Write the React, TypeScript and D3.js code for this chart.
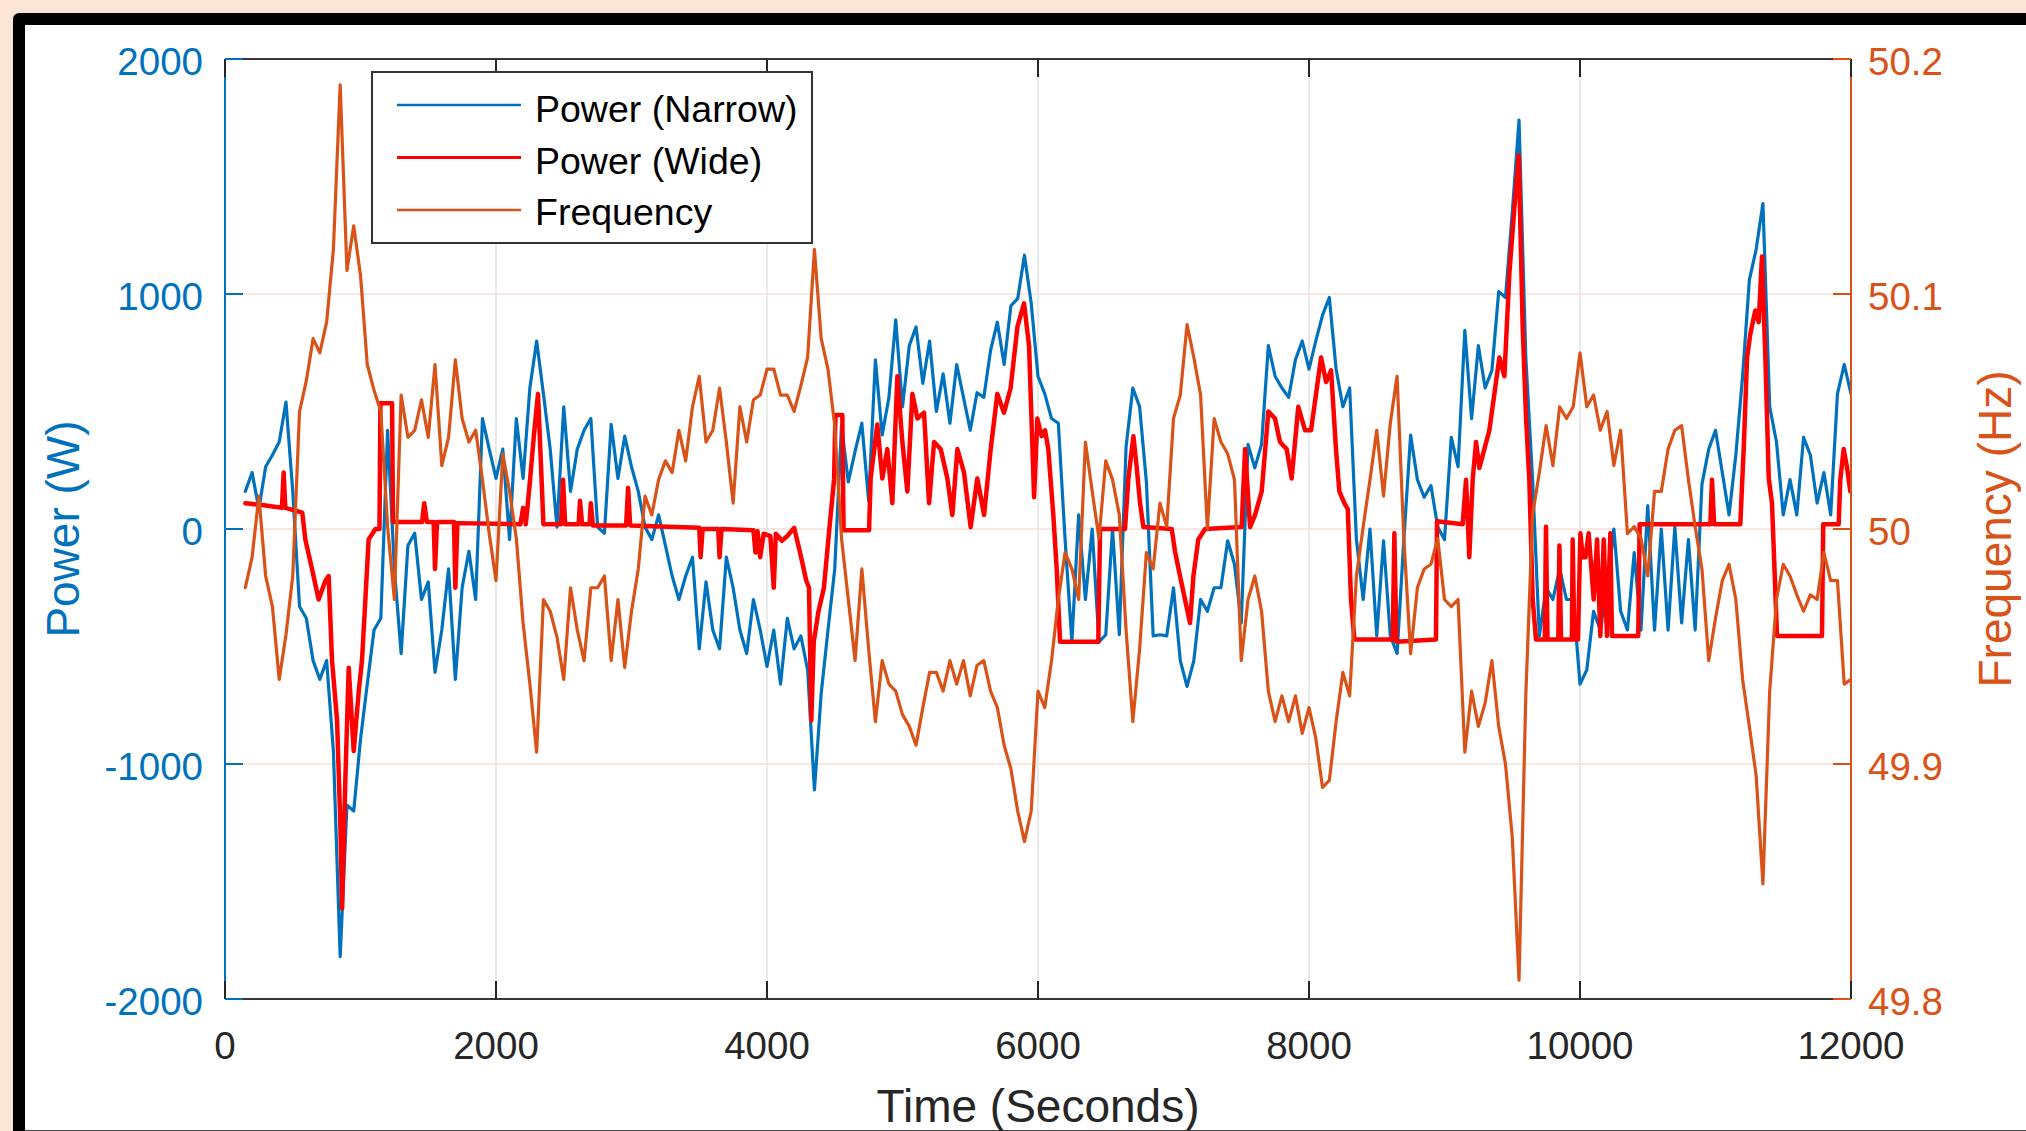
import React, { useEffect } from 'react';
import * as d3 from 'd3';

// Sampling of the narrow-band power and frequency traces (seconds)
const SAMPLE_START = 150;
const SAMPLE_STEP = 50;

// Power (Narrow), W — one value every 50 s from 150 s to 12000 s
const narrowPower = [
  160, 240, 85, 265, 315, 370, 540, 160, -330, -380, -560, -640, -560, -945, -1820, -1175, -1200, -895, -660, -430,
  -380, 420, -170, -530, -70, -18, -300, -225, -610, -430, -170, -640, -250, -95, -300, 470, 340, 215,
  340, -45, 470, 215, 600, 800, 575, 340, 8, 520, 160, 340, 420, 470, 8, -18, 445, 215, 395, 265,
  160, 8, -45, 60, -70, -200, -300, -200, -120, -510, -225, -430, -510, -120, -250, -430, -530, -300, -430, -585,
  -430, -660, -380, -510, -455, -600, -1110, -700, -430, -170, 440, 200, 330, 450, 120, 720, 400, 560, 890, 520,
  780, 860, 620, 800, 500, 660, 450, 700, 560, 420, 580, 560, 760, 880, 700, 950, 980, 1165, 960, 650,
  575, 470, 450, -45, -480, 60, -300, 0, -480, -450, 0, -450, 350, 600, 520, 200, -455, -450, -455, -250,
  -560, -670, -560, -300, -350, -250, -250, -50, -150, -400, 360, 260, 360, 780, 650, 600, 560, 720, 800, 680,
  800, 910, 985, 680, 520, 600, -45, -300, 0, -455, -50, -455, -530, -45, 400, 210, 135, 185, 8, -45,
  390, 265, 845, 470, 780, 600, 675, 1010, 985, 1345, 1740, 730, 210, -455, -250, -300, -170, -300, -300, -660,
  -600, -350, -430, -250, 0, -350, -430, -100, -430, 100, -430, 0, -430, 8, -400, -45, -430, 190, 340, 420,
  240, 60, 315, 650, 1060, 1190, 1385, 520, 370, 60, 210, 60, 390, 315, 110, 240, 60, 575, 700, 575,
];

// Frequency, Hz — same sampling as narrowPower
const frequency = [
  49.975, 49.988, 50.014, 49.980, 49.967, 49.936, 49.955, 49.980, 50.050, 50.063,
  50.081, 50.075, 50.088, 50.119, 50.189, 50.110, 50.129, 50.108, 50.070, 50.059,
  50.050, 50.001, 49.970, 50.057, 50.039, 50.042, 50.055, 50.039, 50.070, 50.027,
  50.039, 50.072, 50.047, 50.037, 50.042, 50.021, 49.998, 49.978,
  50.032, 50.016, 49.996, 49.960, 49.934, 49.905, 49.970, 49.965, 49.954, 49.936,
  49.975, 49.957, 49.944, 49.975, 49.975, 49.980, 49.944, 49.970, 49.941, 49.965,
  49.983, 50.014, 50.006, 50.021, 50.029, 50.024, 50.042, 50.029, 50.052, 50.065,
  50.037, 50.042, 50.060, 50.037, 50.011, 50.052, 50.037, 50.055, 50.057, 50.068,
  50.068, 50.057, 50.057, 50.050, 50.061, 50.073, 50.119, 50.081, 50.068, 50.044,
  49.996, 49.970, 49.944, 49.983, 49.949, 49.918, 49.944, 49.934, 49.931, 49.921,
  49.916, 49.908, 49.924, 49.939, 49.939, 49.931, 49.944, 49.934, 49.944, 49.929,
  49.942, 49.944, 49.931, 49.924, 49.908, 49.898, 49.880, 49.867, 49.880, 49.931,
  49.924, 49.944, 49.970, 49.990, 49.983, 49.970, 50.037, 50.016, 49.996, 50.029,
  50.021, 50.006, 49.957, 49.918, 49.949, 49.990, 49.983, 50.011, 50.001, 50.047,
  50.057, 50.087, 50.073, 50.057, 50.000, 50.047, 50.037, 50.032, 50.021, 49.944,
  49.970, 49.980, 49.965, 49.931, 49.918, 49.929, 49.918, 49.929, 49.913, 49.924,
  49.911, 49.890, 49.893, 49.918, 49.939, 49.929, 49.980, 50.001, 50.021, 50.042,
  50.014, 50.045, 50.065, 49.996, 49.947, 49.975, 49.983, 49.985, 49.996, 49.970,
  49.967, 49.970, 49.905, 49.931, 49.916, 49.926, 49.944, 49.916, 49.900, 49.869,
  49.808, 49.929, 50.006, 50.024, 50.044, 50.027, 50.052, 50.047, 50.052, 50.075,
  50.052, 50.057, 50.042, 50.050, 50.027, 50.042, 49.998, 50.001, 49.996, 49.980,
  50.016, 50.016, 50.034, 50.042, 50.044, 50.021, 50.001, 49.983, 49.944, 49.962,
  49.978, 49.985, 49.970, 49.936, 49.916, 49.895, 49.849, 49.931, 49.970, 49.985,
  49.980, 49.972, 49.965, 49.972, 49.970, 49.990, 49.978, 49.978, 49.934, 49.936,
];

// Power (Wide): breakpoints (s) and values (W)
const wideTime = [
  150, 300, 420, 433, 445, 570, 593, 642, 691, 741, 765, 790, 827, 851, 864, 888, 913, 950, 987, 1011,
  1036, 1060, 1110, 1140, 1147, 1233, 1240, 1455, 1470, 1490, 1540, 1550, 1565, 1690, 1700, 1715,
  2180, 2200, 2220, 2250, 2280, 2310, 2330, 2350, 2480, 2495, 2510, 2610, 2620, 2635, 2690, 2700, 2715,
  2960, 2975, 2990, 3500, 3510, 3525, 3640, 3650, 3665, 3900, 3915, 3930, 3950, 3975,
  4025, 4050, 4065, 4110, 4150, 4200, 4240, 4290, 4310, 4327, 4345, 4380, 4420, 4460, 4495, 4505, 4556, 4565,
  4753, 4765, 4814, 4851, 4888, 4925, 4962, 4999, 5036, 5073, 5110, 5159, 5196, 5233, 5282, 5331, 5368, 5405,
  5454, 5503, 5552, 5602, 5651, 5700, 5749, 5798, 5848, 5897, 5934, 5971, 5995, 6027, 6052, 6076, 6113, 6138,
  6163, 6445, 6458, 6642, 6667, 6704, 6728, 6753, 6778, 6987, 7011, 7048, 7085, 7122, 7147, 7183, 7233,
  7503, 7528, 7565, 7602, 7651, 7700, 7749, 7786, 7835, 7872, 7921, 7971, 8015, 8052, 8089, 8126, 8163,
  8199, 8224, 8261, 8286, 8310, 8335, 8618, 8630, 8645, 8937, 8945, 9134, 9159, 9183, 9208, 9233, 9257,
  9294, 9331, 9368, 9405, 9442, 9479, 9516, 9548, 9577, 9602, 9626, 9651, 9675, 9740, 9749, 9760, 9840,
  9848, 9860, 9940, 9946, 9958, 9985, 10003, 10020, 10040, 10064, 10101, 10126, 10150, 10175, 10199, 10224,
  10236, 10430, 10440, 10962, 10974, 10990, 11183, 11208, 11233, 11257, 11294, 11319, 11343, 11368, 11393,
  11417, 11454, 11786, 11795, 11909, 11921, 11946, 11971, 11995, 12000,
];
const widePower = [
  110, 100, 90, 240, 90, 70, -45, -170, -300, -220, -200, -560, -815, -1250, -1615, -1070, -590, -945, -690, -560,
  -300, -45, 0, 0, 535, 535, 30, 30, 110, 30, 30, -170, 30, 30, -250, 25,
  20, 90, 20, 200, 400, 575, 300, 20, 20, 210, 20, 20, 120, 20, 20, 110, 15,
  15, 175, 15, 5, -120, 0, 0, -120, 0, -5, -100, -10, -120, -20,
  -30, -250, -20, -50, -30, 5, -90, -220, -250, -815, -480, -350, -250, 0, 210, 485, 485, -5,
  -5, 215, 445, 215, 340, 110, 650, 370, 160, 575, 470, 495, 110, 370, 340, 215, 60, 340,
  240, 8, 215, 60, 340, 575, 495, 600, 860, 960, 780, 135, 470, 395, 420, 340, 60, -170,
  -480, -480, 0, 0, 215, 395, 265, 110, 8, 0, -95, -200, -300, -400, -200, -45, 0,
  8, 340, 8, 60, 160, 500, 470, 370, 340, 215, 520, 420, 420, 575, 730, 625, 675,
  340, 160, 110, 85, -300, -470, -470, -18, -480, -470, 33, 20, 210, -120, 210, 370, 260,
  340, 420, 575, 730, 650, 1090, 1370, 1590, 860, 470, 210, -300, -470, -470, 10, -470, -470,
  -70, -470, -470, -45, -470, -470, -18, -120, -120, -18, -300, -45, -455, -45, -455, -18,
  -455, -455, 20, 20, 210, 20, 20, 340, 730, 830, 930, 880, 1160, 730, 215,
  110, -455, -455, 20, 20, 210, 340, 260, 160, 200,
];

const timeTicks = [0, 2000, 4000, 6000, 8000, 10000, 12000];
const powerTicks = [-2000, -1000, 0, 1000, 2000];
const freqTicks = [49.8, 49.9, 50, 50.1, 50.2];
const freqTickLabels = ['49.8', '49.9', '50', '50.1', '50.2'];
const seriesNames = ['Power (Narrow)', 'Power (Wide)', 'Frequency'];

const BLUE = '#0072BD';
const RED = '#FF0000';
const ORANGE = '#D95319';
const DARK = '#262626';
const FONT = '"Liberation Sans", Arial, Helvetica, sans-serif';

export default function App() {
  useEffect(() => {
    document.body.style.margin = '0';
    document.body.style.overflow = 'hidden';
  }, []);

  const W = 2026;
  const H = 1131;
  const L = 225, R = 1851, T = 59, B = 999;
  const TICK = 18;

  const x = d3.scaleLinear().domain([0, 12000]).range([L, R]);
  const yP = d3.scaleLinear().domain([-2000, 2000]).range([B, T]);
  const yF = d3.scaleLinear().domain([49.8, 50.2]).range([B, T]);

  const sampleTimes = narrowPower.map((_, i) => SAMPLE_START + i * SAMPLE_STEP);
  const linePower = d3.line<[number, number]>().x(d => x(d[0])).y(d => yP(d[1]));
  const lineFreq = d3.line<[number, number]>().x(d => x(d[0])).y(d => yF(d[1]));

  const narrowPath = linePower(narrowPower.map((v, i) => [sampleTimes[i], v] as [number, number])) || '';
  const widePath = linePower(widePower.map((v, i) => [wideTime[i], v] as [number, number])) || '';
  const freqPath = lineFreq(frequency.map((v, i) => [sampleTimes[i], v] as [number, number])) || '';

  const legendColors = [BLUE, RED, ORANGE];
  const legendWidths = [2.5, 3, 2.5];

  return (
    <svg width={W} height={H} style={{ position: 'absolute', left: 0, top: 0, display: 'block' }} fontFamily={FONT}>
      <rect x={0} y={0} width={W} height={H} fill="#fbe5d6" />
      <rect x={13} y={13} width={W + 20} height={H + 20} rx={6} fill="#000" />
      <rect x={25} y={25} width={W} height={H} fill="#fff" />
      <line x1={25} x2={W} y1={1130.5} y2={1130.5} stroke="#444" strokeWidth={1} />

      <defs>
        <clipPath id="plotClip">
          <rect x={L} y={T} width={R - L} height={B - T} />
        </clipPath>
      </defs>

      {/* grid */}
      {timeTicks.slice(1, -1).map(t => (
        <line key={'gx' + t} x1={x(t)} x2={x(t)} y1={T} y2={B} stroke="#e3e3e3" strokeWidth={1.5} />
      ))}
      {powerTicks.slice(1, -1).map(p => (
        <line key={'gy' + p} x1={L} x2={R} y1={yP(p)} y2={yP(p)} stroke="#f8e0d6" strokeWidth={1.5} />
      ))}

      {/* data */}
      <g clipPath="url(#plotClip)" fill="none" strokeLinejoin="round" strokeLinecap="round">
        <path d={narrowPath} stroke={BLUE} strokeWidth={3.2} />
        <path d={widePath} stroke={RED} strokeWidth={4.5} />
        <path d={freqPath} stroke={ORANGE} strokeWidth={3.2} />
      </g>

      {/* box */}
      <line x1={L} x2={R} y1={T} y2={T} stroke="#3d3535" strokeWidth={2} />
      <line x1={L} x2={R} y1={B} y2={B} stroke="#3d3535" strokeWidth={2} />
      <line x1={L} x2={L} y1={T} y2={B} stroke={BLUE} strokeWidth={2} />
      <line x1={R} x2={R} y1={T} y2={B} stroke={ORANGE} strokeWidth={2} />

      {/* x ticks */}
      {timeTicks.map(t => (
        <g key={'xt' + t}>
          <line x1={x(t)} x2={x(t)} y1={B} y2={B - TICK} stroke={DARK} strokeWidth={2} />
          <line x1={x(t)} x2={x(t)} y1={T} y2={T + TICK} stroke={DARK} strokeWidth={2} />
          <text x={x(t)} y={1059} fontSize={38.5} fill={DARK} textAnchor="middle">{t}</text>
        </g>
      ))}
      {/* left ticks */}
      {powerTicks.map(p => (
        <g key={'yl' + p}>
          <line x1={L} x2={L + TICK} y1={yP(p)} y2={yP(p)} stroke={BLUE} strokeWidth={2} />
          <text x={203} y={yP(p) + 16} fontSize={38.5} fill={BLUE} textAnchor="end">{p}</text>
        </g>
      ))}
      {/* right ticks */}
      {freqTicks.map((f, i) => (
        <g key={'yr' + f}>
          <line x1={R - TICK} x2={R} y1={yF(f)} y2={yF(f)} stroke={ORANGE} strokeWidth={2} />
          <text x={1868} y={yF(f) + 16} fontSize={38.5} fill={ORANGE} textAnchor="start">{freqTickLabels[i]}</text>
        </g>
      ))}

      {/* axis labels */}
      <text x={(L + R) / 2} y={1122} fontSize={46} fill={DARK} textAnchor="middle">Time (Seconds)</text>
      <text transform={`translate(79, ${(T + B) / 2}) rotate(-90)`} fontSize={46} fill={BLUE} textAnchor="middle">Power (W)</text>
      <text transform={`translate(2011, ${(T + B) / 2}) rotate(-90)`} fontSize={46} fill={ORANGE} textAnchor="middle">Frequency (Hz)</text>

      {/* legend */}
      <rect x={372} y={72} width={440} height={171} fill="#fff" stroke="#333" strokeWidth={2} />
      {seriesNames.map((name, i) => (
        <g key={name}>
          <line x1={397} x2={521} y1={105 + i * 52.5} y2={105 + i * 52.5} stroke={legendColors[i]} strokeWidth={legendWidths[i]} />
          <text x={535} y={122 + i * 51.5} fontSize={37.5} fill="#000">{name}</text>
        </g>
      ))}
    </svg>
  );
}
